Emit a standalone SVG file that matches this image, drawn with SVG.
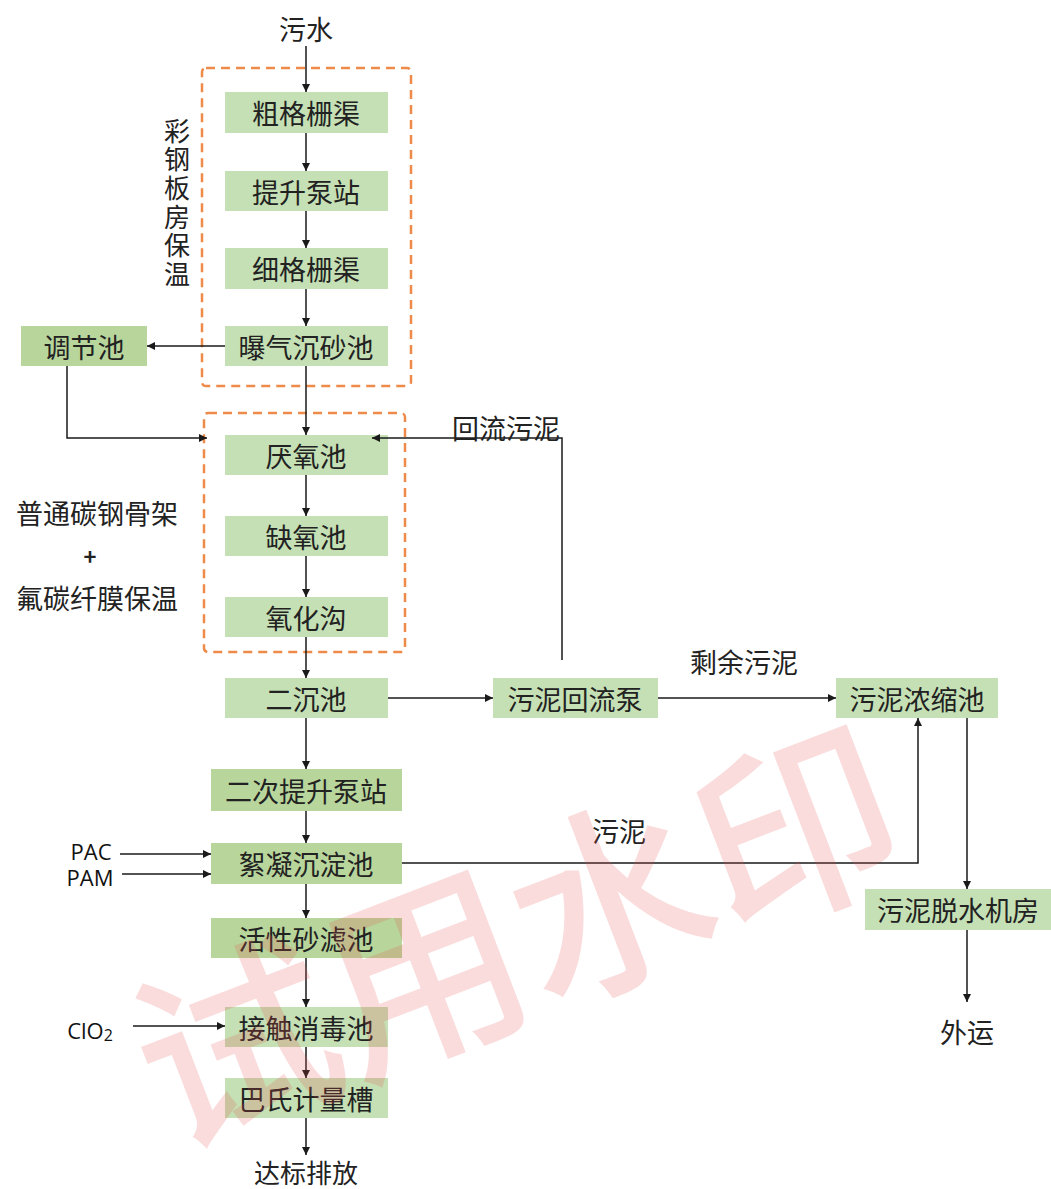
<svg xmlns="http://www.w3.org/2000/svg" width="1051" height="1189" viewBox="0 0 1051 1189">
<defs>
<marker id="ah" viewBox="0 0 10 10" refX="10" refY="5" markerWidth="8" markerHeight="8" markerUnits="userSpaceOnUse" orient="auto">
<path d="M0,0 L10,5 L0,10 Z" fill="#1a1a1a"/>
</marker>
<style>
.box{fill:#c5e0b4}
.box2{fill:#b8d69c}
.t{font-family:"Noto Sans CJK SC","Noto Sans",sans-serif;font-size:27px;fill:#222222;text-anchor:middle;dominant-baseline:central}
.l{font-family:"Open Sans","Liberation Sans",sans-serif;font-size:22px;fill:#111111;text-anchor:middle;dominant-baseline:central}
.c{fill:none;stroke:#1a1a1a;stroke-width:1.5}
.a{marker-end:url(#ah)}
.dash{fill:none;stroke:#ee8a4a;stroke-width:2.5;stroke-dasharray:9 6}
</style>
</defs>
<rect width="1051" height="1189" fill="#ffffff"/>

<g id="enclosures">
<rect class="dash" x="202" y="68" width="209" height="318" rx="4"/>
<rect class="dash" x="204" y="413" width="201" height="239" rx="4"/>
</g>

<g id="n-cugeshan"><rect class="box" x="225" y="92" width="163" height="41"/><text class="t" x="306" y="112">粗格栅渠</text></g>
<g id="n-tisheng"><rect class="box" x="225" y="171" width="163" height="40"/><text class="t" x="306" y="191">提升泵站</text></g>
<g id="n-xigeshan"><rect class="box" x="225" y="248" width="163" height="41"/><text class="t" x="306" y="268">细格栅渠</text></g>
<g id="n-baoqi"><rect class="box" x="225" y="326" width="163" height="40"/><text class="t" x="306" y="346">曝气沉砂池</text></g>
<g id="n-tiaojie"><rect class="box2" x="21" y="326" width="126" height="40"/><text class="t" x="84" y="346">调节池</text></g>
<g id="n-yanyang"><rect class="box" x="225" y="435" width="163" height="40"/><text class="t" x="306" y="455">厌氧池</text></g>
<g id="n-queyang"><rect class="box" x="225" y="516" width="163" height="40"/><text class="t" x="306" y="536">缺氧池</text></g>
<g id="n-yanghuagou"><rect class="box" x="225" y="597" width="163" height="40"/><text class="t" x="306" y="617">氧化沟</text></g>
<g id="n-erchen"><rect class="box" x="225" y="678" width="163" height="40"/><text class="t" x="306" y="698">二沉池</text></g>
<g id="n-huiliubeng"><rect class="box" x="493" y="678" width="165" height="40"/><text class="t" x="575" y="698">污泥回流泵</text></g>
<g id="n-nongsuo"><rect class="box" x="836" y="678" width="162" height="40"/><text class="t" x="917" y="698">污泥浓缩池</text></g>
<g id="n-erci"><rect class="box2" x="211" y="769" width="191" height="42"/><text class="t" x="306" y="790">二次提升泵站</text></g>
<g id="n-xuning"><rect class="box2" x="211" y="843" width="191" height="41"/><text class="t" x="306" y="863">絮凝沉淀池</text></g>
<g id="n-huoxing"><rect class="box2" x="211" y="918" width="191" height="40"/><text class="t" x="306" y="938">活性砂滤池</text></g>
<g id="n-jiechu"><rect class="box" x="225" y="1007" width="163" height="40"/><text class="t" x="306" y="1027">接触消毒池</text></g>
<g id="n-bashi"><rect class="box" x="225" y="1078" width="163" height="40"/><text class="t" x="306" y="1098">巴氏计量槽</text></g>
<g id="n-tuoshui"><rect class="box" x="865" y="889" width="186" height="41"/><text class="t" x="958" y="909">污泥脱水机房</text></g>

<g id="connectors">
<line class="c a" x1="306" y1="46" x2="306" y2="92"/>
<line class="c a" x1="306" y1="133" x2="306" y2="171"/>
<line class="c a" x1="306" y1="211" x2="306" y2="248"/>
<line class="c a" x1="306" y1="289" x2="306" y2="326"/>
<line class="c a" x1="225" y1="346" x2="147" y2="346"/>
<line class="c a" x1="306" y1="366" x2="306" y2="435"/>
<path class="c a" d="M67,366 V438 H207"/>
<line class="c a" x1="306" y1="475" x2="306" y2="516"/>
<line class="c a" x1="306" y1="556" x2="306" y2="597"/>
<line class="c a" x1="306" y1="637" x2="306" y2="678"/>
<line class="c a" x1="388" y1="698" x2="493" y2="698"/>
<path class="c a" d="M562,660 V438 H372"/>
<line class="c a" x1="658" y1="698" x2="836" y2="698"/>
<line class="c a" x1="306" y1="718" x2="306" y2="769"/>
<line class="c a" x1="306" y1="811" x2="306" y2="843"/>
<line class="c a" x1="306" y1="884" x2="306" y2="918"/>
<line class="c a" x1="306" y1="958" x2="306" y2="1007"/>
<line class="c a" x1="306" y1="1047" x2="306" y2="1078"/>
<line class="c a" x1="306" y1="1118" x2="306" y2="1155"/>
<line class="c a" x1="120" y1="854" x2="211" y2="854"/>
<line class="c a" x1="122" y1="874" x2="211" y2="874"/>
<line class="c a" x1="133" y1="1026" x2="225" y2="1026"/>
<path class="c a" d="M402,863 H918 V718"/>
<line class="c a" x1="967" y1="718" x2="967" y2="889"/>
<line class="c a" x1="967" y1="930" x2="967" y2="1002"/>
</g>

<g id="labels">
<text class="t" x="306" y="28">污水</text>
<text x="177" y="118" style="font-family:'Noto Sans CJK SC',sans-serif;font-size:26px;fill:#222222;writing-mode:vertical-rl;letter-spacing:2.6px">彩钢板房保温</text>
<text class="t" x="97" y="512">普通碳钢骨架</text>
<text class="t" x="90" y="555" style="font-weight:bold;font-size:22px">+</text>
<text class="t" x="97" y="597">氟碳纤膜保温</text>
<text class="t" x="506" y="427">回流污泥</text>
<text class="t" x="744" y="661">剩余污泥</text>
<text class="t" x="619" y="830">污泥</text>
<text class="l" x="91" y="851">PAC</text>
<text class="l" x="90" y="877">PAM</text>
<text class="l" x="90" y="1030">ClO<tspan font-size="16" dy="5">2</tspan></text>
<text class="t" x="306" y="1171" style="font-size:26px">达标排放</text>
<text class="t" x="967" y="1031">外运</text>
</g>

<g id="watermark">
<text transform="translate(170,1150) rotate(-21)" style="font-family:'Noto Sans CJK SC',sans-serif;font-size:200px;font-weight:500;fill:#e85050;fill-opacity:0.2">试用水印</text>
</g>
</svg>
